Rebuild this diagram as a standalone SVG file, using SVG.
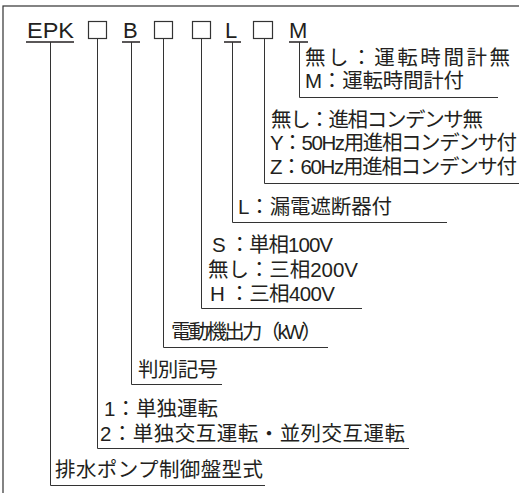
<svg xmlns="http://www.w3.org/2000/svg" width="519" height="493" viewBox="0 0 519 493">
<style>
text{font-family:"Liberation Sans","Noto Sans CJK JP",sans-serif;fill:#231f20;font-size:20.5px}
.h{font-size:22px}
.ln{stroke:#333;stroke-width:1;fill:none}
.bx{stroke:#333;stroke-width:1.2;fill:#fff}
.ul{stroke:#231f20;stroke-width:1.5}
</style>
<rect x="3" y="6" width="600" height="600" fill="#fff" stroke="#333" stroke-width="1.2"/>
<g id="header">
<text class="h" x="27" y="38" textLength="47" lengthAdjust="spacingAndGlyphs">EPK</text>
<line class="ul" x1="26" y1="42" x2="74" y2="42"/>
<rect class="bx" x="88.5" y="21.5" width="18" height="17"/>
<text class="h" x="123" y="38">B</text>
<line class="ul" x1="122" y1="42" x2="140" y2="42"/>
<rect class="bx" x="154.5" y="21.5" width="18" height="17"/>
<rect class="bx" x="192.5" y="21.5" width="18" height="17"/>
<text class="h" x="225" y="38">L</text>
<line class="ul" x1="224" y1="42" x2="241" y2="42"/>
<rect class="bx" x="253.5" y="21.5" width="19" height="17"/>
<text class="h" x="289" y="38">M</text>
<line class="ul" x1="289" y1="42" x2="308" y2="42"/>
</g>
<g id="connectors">
<polyline class="ln" points="299.5,42 299.5,97.5 498,97.5"/>
<polyline class="ln" points="264.5,38.5 264.5,183.5 519,183.5"/>
<polyline class="ln" points="232.5,42 232.5,222.5 447,222.5"/>
<polyline class="ln" points="201.5,38.5 201.5,308.5 362,308.5"/>
<polyline class="ln" points="163.5,38.5 163.5,347.5 328,347.5"/>
<polyline class="ln" points="131.5,42 131.5,384.5 222,384.5"/>
<polyline class="ln" points="97.5,38.5 97.5,448.5 409,448.5"/>
<polyline class="ln" points="50.5,42 50.5,485.5 265,485.5"/>
</g>
<g id="node-M">
<text x="305" y="65" textLength="205" lengthAdjust="spacing">無し：運転時間計無</text>
<text x="305" y="88" textLength="159" lengthAdjust="spacing">M：運転時間計付</text>
</g>
<g id="node-capacitor">
<text x="271" y="127" textLength="212" lengthAdjust="spacing">無し：進相コンデンサ無</text>
<text x="270" y="150" textLength="247" lengthAdjust="spacing">Y：50Hz用進相コンデンサ付</text>
<text x="270" y="174" textLength="247" lengthAdjust="spacing">Z：60Hz用進相コンデンサ付</text>
</g>
<g id="node-L">
<text x="238" y="214" textLength="154" lengthAdjust="spacing">L：漏電遮断器付</text>
</g>
<g id="node-voltage">
<text x="212" y="252" textLength="121" lengthAdjust="spacing">S ：単相100V</text>
<text x="208" y="277" textLength="150" lengthAdjust="spacing">無し：三相200V</text>
<text x="210" y="301" textLength="125" lengthAdjust="spacing">H ：三相400V</text>
</g>
<g id="node-output">
<text x="171" y="339" textLength="151" lengthAdjust="spacing">電動機出力（kW）</text>
</g>
<g id="node-B">
<text x="138" y="377" textLength="80" lengthAdjust="spacing">判別記号</text>
</g>
<g id="node-operation">
<text x="104" y="416" textLength="114" lengthAdjust="spacing">1：単独運転</text>
<text x="100" y="441" textLength="305" lengthAdjust="spacing">2：単独交互運転・並列交互運転</text>
</g>
<g id="node-EPK">
<text x="55" y="477" textLength="208" lengthAdjust="spacing">排水ポンプ制御盤型式</text>
</g>
</svg>
